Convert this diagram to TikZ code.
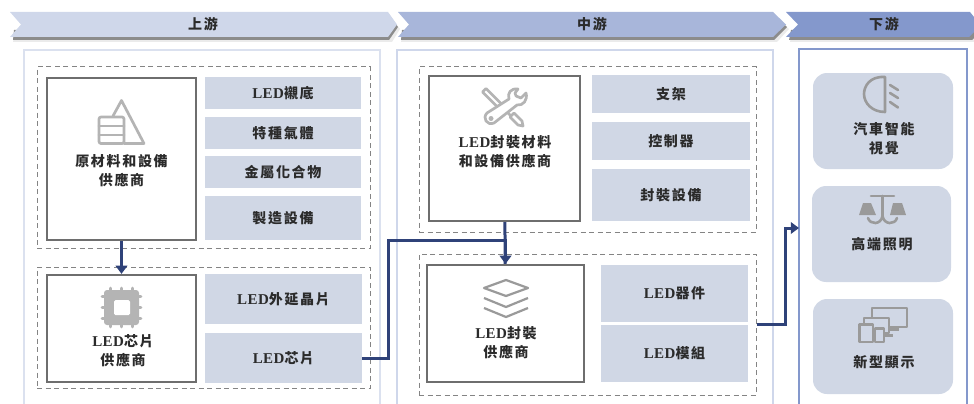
\documentclass[tikz,border=0pt]{standalone}
\usepackage{fontspec}
\usepackage{xcolor}
\usetikzlibrary{arrows.meta}
\setmainfont[LetterSpace=3]{Liberation Serif}
\newfontfamily\cjk[LetterSpace=12]{Noto Sans CJK TC}
\newcommand{\led}{{\rmfamily\bfseries\fontsize{15}{19}\selectfont LED}}
\definecolor{bannerA}{HTML}{CFD7EA}
\definecolor{bannerB}{HTML}{A8B6DA}
\definecolor{bannerC}{HTML}{8498CC}
\definecolor{slate}{HTML}{D0D7E5}
\definecolor{navy}{HTML}{2F4279}
\definecolor{framegray}{HTML}{6E6E6E}
\definecolor{icongray}{HTML}{B4B4B4}
\definecolor{icondark}{HTML}{9A9A9A}
\definecolor{inktext}{HTML}{2B2B2B}

\begin{document}
\begin{tikzpicture}[x=1pt,y=-1pt]
  \tikzset{panel/.style = {shape=rectangle,draw=#1,line width=2pt,inner sep=0pt}}
  \tikzset{dashbox/.style = {shape=rectangle,draw=framegray!85,dashed,dash pattern=on 5pt off 3.5pt,line width=1pt,inner sep=0pt}}
  \tikzset{supplier/.style = {shape=rectangle,draw=framegray,line width=2.2pt,fill=white,inner sep=0pt}}
  \tikzset{item/.style = {shape=rectangle,fill=slate,inner sep=0pt,font=\cjk\bfseries\fontsize{14}{19}\selectfont,text=inktext,align=center}}
  \tikzset{market/.style = {shape=rectangle,fill=slate,inner sep=0pt,rounded corners=14pt}}
  \tikzset{caption/.style = {inner sep=0pt,font=\cjk\bfseries\fontsize{14}{19}\selectfont,text=inktext,align=center}}
  \tikzset{link/.style = {draw=navy,line width=3pt}}
  \tikzset{tipA/.tip={Triangle[angle=70:10pt]}}
  \tikzset{iconA/.style = {draw=icongray,line width=2.7pt,line join=round,line cap=round}}
  \tikzset{iconB/.style = {draw=icondark,line width=2.6pt,line join=round,line cap=round}}

  \useasboundingbox (0,0) rectangle (974,404);
  \clip (0,0) rectangle (974,404);

  % banners
  \foreach \xa/\xb/\xc/\xd/\col in {10/21/388/397/bannerA, 398/409/773/786/bannerB}{
    \fill[black!8] (\xa+5,32) -- (\xa+3,42) -- (\xc+4,42) -- (\xd+3,29) -- (\xc+4,20) -- cycle;
    \fill[black!45] (\xa+4,30) -- (\xa+3,40) -- (\xc+1,40) -- (\xd+1,27) -- (\xc+1,14.5) -- cycle;
    \fill[\col] (\xa,12) -- (\xb,24.5) -- (\xa,37) -- (\xc,37) -- (\xd,24.5) -- (\xc,12) -- cycle;
  }
  \fill[black!8] (792,32) -- (790,42) -- (974,42) -- (974,25) -- cycle;
  \fill[black!45] (791,30) -- (789,40) -- (972,40) -- (974,38) -- (974,25) -- cycle;
  \fill[bannerC] (786,12) -- (798,24.5) -- (786,37) -- (969,37) -- (974,32) -- (974,17) -- (970,12) -- cycle;

  \node[caption] (upstream) at (203,24.5) {上游};
  \node[caption] (midstream) at (592,24.5) {中游};
  \node[caption] (downstream) at (884,24.5) {下游};

  % panels
  \node[panel=bannerA!75!white,minimum width=356pt,minimum height=360pt] (panelup) at (202,230) {};
  \node[panel=bannerB!55!white,minimum width=376pt,minimum height=360pt] (panelmid) at (585,230) {};
  \node[panel=bannerC,minimum width=168pt,minimum height=361pt] (paneldown) at (883,229.5) {};

  % dashed groups
  \node[dashbox,minimum width=333pt,minimum height=181pt] (groupA) at (203.5,157.5) {};
  \node[dashbox,minimum width=333pt,minimum height=121pt] (groupB) at (203.5,327.5) {};
  \node[dashbox,minimum width=337pt,minimum height=165pt] (groupC) at (587.5,149.5) {};
  \node[dashbox,minimum width=337pt,minimum height=141pt] (groupD) at (587.5,324.5) {};

  % suppliers
  \node[supplier,minimum width=149pt,minimum height=162pt] (rawsup) at (121.5,159) {};
  \node[supplier,minimum width=149pt,minimum height=107pt] (chipsup) at (121.5,328.5) {};
  \node[supplier,minimum width=151pt,minimum height=145pt] (matsup) at (504.5,148.5) {};
  \node[supplier,minimum width=157pt,minimum height=117pt] (pkgsup) at (505.5,323.5) {};

  \node[caption] (rawtext) at (121.5,170.5) {原材料和設備\\供應商};
  \node[caption] (chiptext) at (123,351) {\led 芯片\\供應商};
  \node[caption] (mattext) at (505,152) {\led 封裝材料\\和設備供應商};
  \node[caption] (pkgtext) at (506,342.5) {\led 封裝\\供應商};

  % items
  \node[item,minimum width=156pt,minimum height=32pt] (substrate) at (283,93) {\led 襯底};
  \node[item,minimum width=156pt,minimum height=32pt] (gas) at (283,133) {特種氣體};
  \node[item,minimum width=156pt,minimum height=32pt] (metal) at (283,172) {金屬化合物};
  \node[item,minimum width=156pt,minimum height=44pt] (equipA) at (283,218) {製造設備};
  \node[item,minimum width=157pt,minimum height=50pt] (wafer) at (283.5,299) {\led 外延晶片};
  \node[item,minimum width=157pt,minimum height=50pt] (chip) at (283.5,358) {\led 芯片};
  \node[item,minimum width=158pt,minimum height=38pt] (bracket) at (671,94) {支架};
  \node[item,minimum width=158pt,minimum height=38pt] (control) at (671,141) {控制器};
  \node[item,minimum width=158pt,minimum height=52pt] (equipB) at (671,195) {封裝設備};
  \node[item,minimum width=147pt,minimum height=57pt] (device) at (674.5,293.5) {\led 器件};
  \node[item,minimum width=147pt,minimum height=57pt] (module) at (674.5,353.5) {\led 模組};

  % markets
  \node[market,minimum width=140pt,minimum height=96pt] (auto) at (883,121) {};
  \node[market,minimum width=139pt,minimum height=96pt] (lighting) at (881.5,234) {};
  \node[market,minimum width=140pt,minimum height=95pt] (display) at (883,346.5) {};
  \node[caption] (autotext) at (884,138.5) {汽車智能\\視覺};
  \node[caption] (lighttext) at (882,244) {高端照明};
  \node[caption] (disptext) at (884,362) {新型顯示};

  % icons
  \draw[iconA] (113,116) -- (121.5,100.5) -- (144,143.5) -- (124,143.5);
  \draw[iconA,rounded corners=2pt] (99,117) rectangle (124,143.5);
  \draw[iconA] (99,126) -- (124,126) (99,135) -- (124,135);

  \fill[icongray,rounded corners=3pt] (104,290) rectangle (139,325);
  \foreach \d in {-11,0,11}{
    \draw[iconA] (121.5+\d,288) -- (121.5+\d,327);
    \draw[iconA] (102,307.5+\d) -- (141,307.5+\d);
  }
  \fill[white,rounded corners=1.5pt] (114,300) rectangle (130,315);

  \draw[iconA] (482.5,92) -- (486,88.5) -- (507,109.5) -- (503.5,113) -- cycle;
  \draw[iconA,fill=white] (507,112) -- (511,116) -- (514,113) -- (522,121) -- (523,126) -- (518,125) -- (510,117);
  \draw[iconA,fill=white] (518,89) .. controls (511,88) and (507,93) .. (509,99) -- (487,113) .. controls (482,118) and (487,126) .. (494,123) -- (517,105) .. controls (523,106) and (528,100) .. (526,93) -- (521,98) -- (516,96) -- (515,93) -- cycle;
  \fill[icongray] (491,118.5) circle (2.5pt);

  \draw[draw=icondark,line width=2.2pt,line join=round] (484,288) -- (506,280) -- (528,288) -- (506,296) -- cycle;
  \draw[draw=icondark,line width=2.2pt,line join=round] (484,298) -- (506,307) -- (528,298);
  \draw[draw=icondark,line width=2.2pt,line join=round] (484,308) -- (506,317) -- (528,308);

  \draw[iconB] (885,77) .. controls (870,76) and (864,86) .. (864,94) .. controls (864,103) and (872,112) .. (885,112) -- cycle;
  \draw[iconB] (890,85) -- (898,90) (890,93) -- (898,98) (890,102) -- (898,107.5);

  \draw[iconB] (871,196) -- (894,196) (882.5,196) -- (882.5,216);
  \draw[iconB] (868,218) .. controls (870,225) and (881,225) .. (882.5,216) .. controls (884,225) and (895,225) .. (897,218);
  \fill[icondark] (863,203) -- (871,203) -- (876,215) -- (859,215) -- cycle;
  \fill[icondark] (893,203) -- (902,203) -- (906,215) -- (890,215) -- cycle;

  \draw[iconB,line width=2.2pt,line cap=butt] (872,318) -- (872,308) -- (907,308) -- (907,327) -- (890,327) (890,329.5) -- (899,329.5);
  \draw[iconB,line width=2.2pt,line cap=butt] (864,323) -- (864,318) -- (889,318) -- (889,333) -- (885,333) (885,335.5) -- (893,335.5);
  \draw[iconB,line width=2.2pt,line cap=butt] (859.5,324.5) rectangle (873,342);
  \draw[iconB,line width=2.2pt,line cap=butt] (875,328.5) rectangle (884,342);

  % connectors
  \coordinate (bend) at (388.5,240);
  \coordinate (entry) at (799,228);
  \draw[link,-tipA] (rawsup) -- (chipsup);
  \draw[link] (matsup) -- (pkgsup);
  \draw[link,-tipA] (chip.east) -| (bend) -- (bend -| pkgsup) -- (pkgsup);
  \draw[link,-tipA] (groupD.east) -- (785,324.5) |- (entry);
\end{tikzpicture}
\end{document}
